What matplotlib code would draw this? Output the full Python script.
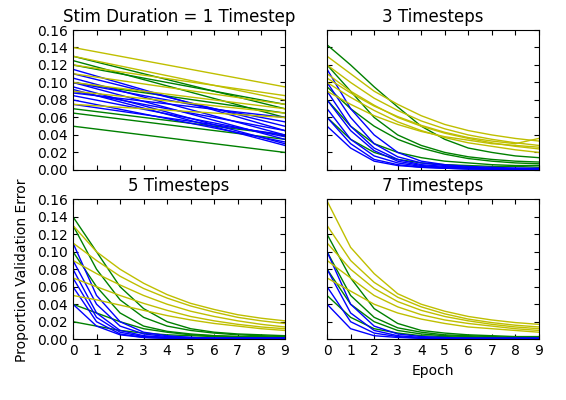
import numpy as np
import matplotlib
matplotlib.use("Agg")
import matplotlib.pyplot as plt

epochs = list(range(10))
titles = ["Stim Duration = 1 Timestep", "3 Timesteps", "5 Timesteps", "7 Timesteps"]

# panel 1: straight lines, (start, end) at epoch 0 and 9
p1_blue = [(0.105, 0.04), (0.1, 0.035), (0.095, 0.03), (0.09, 0.045), (0.085, 0.038), (0.11, 0.05),
           (0.08, 0.032), (0.1, 0.055), (0.075, 0.04), (0.115, 0.045), (0.092, 0.028), (0.088, 0.06)]
p1_green = [(0.125, 0.06), (0.05, 0.02), (0.07, 0.04), (0.12, 0.075), (0.065, 0.035), (0.1, 0.065), (0.13, 0.07)]
p1_yellow = [(0.14, 0.095), (0.13, 0.08), (0.11, 0.075), (0.1, 0.07), (0.09, 0.065), (0.075, 0.06), (0.12, 0.085)]

p2_yellow = [
    [0.13, 0.11, 0.09, 0.075, 0.062, 0.052, 0.045, 0.04, 0.036, 0.033],
    [0.12, 0.1, 0.082, 0.068, 0.056, 0.047, 0.04, 0.035, 0.031, 0.028],
    [0.11, 0.09, 0.074, 0.06, 0.05, 0.042, 0.036, 0.031, 0.027, 0.024],
    [0.1, 0.083, 0.068, 0.055, 0.045, 0.037, 0.031, 0.027, 0.023, 0.02],
    [0.09, 0.075, 0.062, 0.052, 0.044, 0.038, 0.034, 0.03, 0.028, 0.026],
    [0.105, 0.088, 0.073, 0.061, 0.051, 0.043, 0.037, 0.033, 0.03, 0.036],
]
p2_green = [
    [0.143, 0.12, 0.095, 0.072, 0.05, 0.035, 0.025, 0.02, 0.016, 0.014],
    [0.12, 0.09, 0.06, 0.04, 0.028, 0.02, 0.015, 0.012, 0.01, 0.009],
    [0.095, 0.07, 0.05, 0.035, 0.025, 0.018, 0.013, 0.01, 0.008, 0.007],
    [0.08, 0.05, 0.03, 0.02, 0.014, 0.01, 0.008, 0.006, 0.005, 0.005],
    [0.06, 0.035, 0.02, 0.012, 0.008, 0.006, 0.005, 0.004, 0.004, 0.003],
]
p2_blue = [
    [0.115, 0.07, 0.04, 0.02, 0.01, 0.006, 0.004, 0.003, 0.002, 0.002],
    [0.1, 0.06, 0.03, 0.015, 0.008, 0.005, 0.003, 0.002, 0.002, 0.001],
    [0.09, 0.05, 0.025, 0.012, 0.006, 0.004, 0.003, 0.002, 0.001, 0.001],
    [0.08, 0.045, 0.022, 0.01, 0.005, 0.003, 0.002, 0.001, 0.001, 0.001],
    [0.07, 0.035, 0.016, 0.008, 0.004, 0.002, 0.002, 0.001, 0.001, 0.001],
    [0.06, 0.03, 0.012, 0.006, 0.003, 0.002, 0.001, 0.001, 0.001, 0.001],
    [0.05, 0.025, 0.01, 0.005, 0.003, 0.002, 0.001, 0.001, 0.001, 0.001],
]

p3_yellow = [
    [0.13, 0.1, 0.08, 0.064, 0.051, 0.041, 0.034, 0.028, 0.024, 0.021],
    [0.11, 0.09, 0.072, 0.058, 0.047, 0.038, 0.031, 0.025, 0.021, 0.018],
    [0.09, 0.075, 0.062, 0.05, 0.04, 0.032, 0.026, 0.021, 0.017, 0.014],
    [0.07, 0.06, 0.05, 0.041, 0.033, 0.026, 0.021, 0.017, 0.014, 0.012],
    [0.05, 0.045, 0.039, 0.033, 0.027, 0.022, 0.018, 0.015, 0.012, 0.01],
]
p3_green = [
    [0.14, 0.1, 0.06, 0.035, 0.02, 0.012, 0.008, 0.006, 0.005, 0.004],
    [0.13, 0.08, 0.045, 0.025, 0.015, 0.01, 0.007, 0.005, 0.004, 0.003],
    [0.1, 0.06, 0.03, 0.015, 0.009, 0.006, 0.004, 0.003, 0.003, 0.002],
    [0.04, 0.03, 0.02, 0.012, 0.008, 0.005, 0.004, 0.003, 0.002, 0.002],
    [0.02, 0.015, 0.01, 0.007, 0.005, 0.004, 0.003, 0.002, 0.002, 0.002],
]
p3_blue = [
    [0.11, 0.05, 0.02, 0.008, 0.004, 0.002, 0.001, 0.001, 0.001, 0.001],
    [0.09, 0.04, 0.015, 0.006, 0.003, 0.002, 0.001, 0.001, 0.001, 0.001],
    [0.08, 0.03, 0.01, 0.004, 0.002, 0.001, 0.001, 0.001, 0.001, 0.001],
    [0.07, 0.025, 0.008, 0.003, 0.002, 0.001, 0.001, 0.001, 0.001, 0.001],
    [0.06, 0.02, 0.006, 0.002, 0.001, 0.001, 0.001, 0.001, 0.001, 0.001],
    [0.04, 0.015, 0.005, 0.002, 0.001, 0.001, 0.001, 0.001, 0.001, 0.001],
]

p4_yellow = [
    [0.158, 0.105, 0.075, 0.052, 0.04, 0.032, 0.026, 0.022, 0.019, 0.017],
    [0.13, 0.09, 0.065, 0.048, 0.037, 0.029, 0.023, 0.019, 0.016, 0.014],
    [0.11, 0.08, 0.058, 0.043, 0.033, 0.026, 0.021, 0.017, 0.014, 0.012],
    [0.09, 0.07, 0.05, 0.037, 0.028, 0.022, 0.018, 0.015, 0.012, 0.01],
    [0.07, 0.055, 0.04, 0.03, 0.023, 0.018, 0.014, 0.012, 0.01, 0.008],
]
p4_green = [
    [0.12, 0.07, 0.035, 0.018, 0.01, 0.007, 0.005, 0.004, 0.003, 0.003],
    [0.1, 0.05, 0.025, 0.013, 0.008, 0.005, 0.004, 0.003, 0.002, 0.002],
    [0.08, 0.04, 0.02, 0.01, 0.006, 0.004, 0.003, 0.002, 0.002, 0.002],
    [0.05, 0.025, 0.012, 0.007, 0.004, 0.003, 0.002, 0.002, 0.001, 0.001],
]
p4_blue = [
    [0.1, 0.04, 0.015, 0.006, 0.003, 0.002, 0.001, 0.001, 0.001, 0.001],
    [0.08, 0.03, 0.01, 0.004, 0.002, 0.001, 0.001, 0.001, 0.001, 0.001],
    [0.06, 0.02, 0.007, 0.003, 0.001, 0.001, 0.001, 0.001, 0.001, 0.001],
    [0.04, 0.012, 0.004, 0.002, 0.001, 0.001, 0.001, 0.001, 0.001, 0.001],
]

colors = {"g": (0, 0.5, 0), "b": (0, 0, 1), "y": (0.75, 0.75, 0)}

fig, axes = plt.subplots(2, 2, figsize=(5.66, 4.0), dpi=100, sharex=True, sharey=True)
fig.subplots_adjust(left=0.129, right=0.952, top=0.925, bottom=0.152, wspace=0.2, hspace=0.21)
axs = axes.ravel()

# panel 1 is straight lines between epoch 0 and 9
for lines, c in [(p1_green, "g"), (p1_blue, "b"), (p1_yellow, "y")]:
    for s, e in lines:
        axs[0].plot([0, 9], [s, e], color=colors[c], lw=1)

panels = [(p2_green, p2_blue, p2_yellow), (p3_green, p3_blue, p3_yellow), (p4_green, p4_blue, p4_yellow)]
for ax, (gl, bl, yl) in zip(axs[1:], panels):
    for lines, c in [(gl, "g"), (bl, "b"), (yl, "y")]:
        for vals in lines:
            ax.plot(epochs, vals, color=colors[c], lw=1)

for ax, t in zip(axs, titles):
    ax.set_title(t, fontsize=12)
    ax.set_xlim(0, 9)
    ax.set_ylim(0, 0.16)
    ax.set_xticks(epochs)
    ax.set_yticks(np.arange(0, 0.161, 0.02))
    ax.tick_params(direction="in", top=True, right=True, labelsize=10)
axs[0].yaxis.set_major_formatter(matplotlib.ticker.FormatStrFormatter("%.2f"))
axs[3].set_xlabel("Epoch")
fig.text(0.038, 0.325, "Proportion Validation Error", rotation=90, va="center", ha="center", fontsize=10)

plt.savefig("out.png", dpi=100)
